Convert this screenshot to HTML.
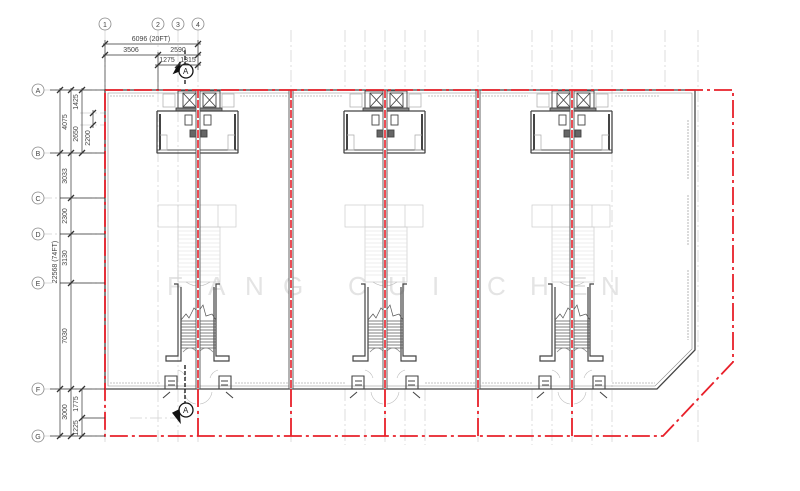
<!DOCTYPE html>
<html><head><meta charset="utf-8"><style>
html,body{margin:0;padding:0;background:#fff;}
svg{display:block;font-family:"Liberation Sans",sans-serif;}
</style></head><body>
<svg width="800" height="491" viewBox="0 0 800 491" xmlns="http://www.w3.org/2000/svg">
<defs>
<g id="mod" fill="none">
  <g stroke="#ccc" stroke-width="0.7">
    <rect x="158" y="205" width="78" height="22"/>
    <line x1="178" y1="205" x2="178" y2="227"/><line x1="218" y1="205" x2="218" y2="227"/>
    <rect x="178" y="227" width="42" height="55"/>
  </g>
  <g stroke="#ddd" stroke-width="0.6">
    <path d="M178 231H220M178 235H220M178 239H220M178 243H220M178 247H220M178 251H220M178 255H220M178 259H220M178 263H220M178 267H220M178 271H220M178 275H220"/>
  </g>
  <g stroke="#444" stroke-width="0.9">
    <rect x="183" y="93" width="13" height="14"/><path d="M183 93L196 107M196 93L183 107"/>
    <rect x="203" y="93" width="13" height="14"/><path d="M203 93L216 107M216 93L203 107"/>
    <rect x="178" y="91" width="42" height="20"/>
    <rect x="176" y="108" width="46" height="3" fill="#888"/>
    <path d="M157 111H238M157 111V153M238 111V153M157 153H238" stroke-width="1.3"/>
    <path d="M160 114V150M235 114V150" stroke-width="2"/>
    <rect x="157" y="150" width="81" height="3"/>
    <rect x="185" y="115" width="7" height="10"/><rect x="204" y="115" width="7" height="10"/>
    <rect x="190" y="130" width="6" height="7" fill="#666"/><rect x="201" y="130" width="6" height="7" fill="#666"/>
  </g>
  <g stroke="#aaa" stroke-width="0.7">
    <rect x="163" y="94" width="12" height="13"/><rect x="222" y="94" width="12" height="13"/>
    <path d="M160 135H167V150H160M235 135H228V150H235"/>
  </g>
  <g stroke="#444" stroke-width="1.2">
    <path d="M174 284H178V356H166V361H181V287M220 284H216V356H229V361H214V287"/>
  </g>
  <g stroke="#555" stroke-width="0.7">
    <path d="M181 321H216M181 324H216M181 327H216M181 330H216M181 333H216M181 336H216M181 339H216M181 342H216M181 345H216M181 348H216"/>
    <path d="M181 320L186 314L189 318L194 308L198 312L203 305L206 316L212 314L216 320"/>
    <path d="M183 352Q190 344 197 352M199 352Q206 344 213 352" stroke="#888"/>
    <path d="M186 282Q198 290 210 282" stroke="#bbb"/>
  </g>
  <g stroke="#444" stroke-width="1.1">
    <path d="M165 389V376H177V389M168 381H175M168 385H175"/>
    <path d="M219 389V376H231V389M221 381H228M221 385H228"/>
    <path d="M170 392L163 398M226 392L233 398"/>
  </g>
  <g stroke="#bbb" stroke-width="0.6">
    <path d="M178 370A12 12 0 0 1 186 378M218 370A12 12 0 0 0 210 378"/>
    <path d="M184 392A14 14 0 0 0 196 404M212 392A14 14 0 0 1 200 404"/>
  </g>
  <rect x="196" y="90" width="4" height="299" fill="#fff" stroke="#555" stroke-width="0.9"/>
  <line x1="198" y1="90" x2="198" y2="389" stroke="#e8202a" stroke-width="1.6" stroke-dasharray="8 2"/>
  <line x1="198" y1="389" x2="198" y2="436" stroke="#e8202a" stroke-width="1.8" stroke-dasharray="18 4 3 4"/>
</g>
</defs>

<g stroke="#d0d0d0" stroke-width="0.7" stroke-dasharray="12 3 2 3" fill="none">
  <path d="M105 30V445M158 30V445M178 30V445M198 30V445"/>
  <path d="M291 30V445M345 30V90M345 389V445M365 30V90M365 389V445M385 30V445M405 30V90M405 389V445M425 30V90M425 389V445"/>
  <path d="M478 30V445M532 30V90M532 389V445M552 30V90M552 389V445M572 30V445M592 30V90M592 389V445M612 30V445M665 30V90M698 30V445"/>
  <path d="M40 90H105M40 153H105M40 198H105M40 234H105M40 283H105M40 389H105M40 436H105"/>
  <path d="M80 113H105M80 125H105M130 418H180"/>
</g>

<g fill="#e4e4e4" font-size="26" font-family="Liberation Sans,sans-serif">
  <text x="167" y="295">F</text><text x="208" y="295">A</text><text x="245" y="295">N</text><text x="283" y="295">G</text>
  <text x="348" y="295">C</text><text x="388" y="295">U</text><text x="432" y="295">I</text>
  <text x="487" y="295">C</text><text x="530" y="295">H</text><text x="570" y="295">E</text><text x="601" y="295">N</text>
</g>

<g fill="none" stroke="#444" stroke-width="1.3">
  <path d="M105 90H695V350L657 389H105Z"/>
  <path d="M108 93H692V349L655 386H108Z" stroke="#888" stroke-width="0.6"/>
</g>
<g stroke="#888" stroke-width="0.6" fill="none" stroke-dasharray="2 1">
  <path d="M110 96H155M240 96H288M295 96H342M428 96H475M482 96H528M615 96H660"/>
  <path d="M110 383H160M235 383H288M295 383H345M425 383H475M482 383H532M612 383H655"/>
  <path d="M688 120V180M688 195V245M688 270V340"/>
</g>
<g>
  <rect x="289" y="90" width="4" height="299" fill="#fff" stroke="#555" stroke-width="0.9"/>
  <rect x="476" y="90" width="4" height="299" fill="#fff" stroke="#555" stroke-width="0.9"/>
  <path d="M291 90V389M478 90V389" stroke="#e8202a" stroke-width="1.6" stroke-dasharray="8 2"/>
</g>

<use href="#mod"/>
<use href="#mod" transform="translate(187 0)"/>
<use href="#mod" transform="translate(374 0)"/>

<g fill="none" stroke="#e8202a" stroke-width="1.8" stroke-dasharray="18 4 3 4">
  <path d="M105 90H733V362L663 436H105Z"/>
  <path d="M291 389V436M478 389V436"/>
</g>

<g stroke="#111" stroke-width="1.3" fill="#fff">
  <path d="M185 50V85" stroke-dasharray="4 2"/>
  <circle cx="186" cy="71" r="7"/>
  <path d="M179 71L174 73L180 62Z" fill="#111"/>
  <path d="M185 365V410" stroke-dasharray="4 2"/>
  <circle cx="186" cy="410" r="7"/>
  <path d="M179 410L173 413L180 422Z" fill="#111"/>
</g>
<g font-size="8" fill="#222"><text x="183" y="74">A</text><text x="183" y="413">A</text></g>

<g fill="#fff" stroke="#888" stroke-width="0.8">
  <circle cx="105" cy="24" r="6"/><circle cx="158" cy="24" r="6"/><circle cx="178" cy="24" r="6"/><circle cx="198" cy="24" r="6"/>
  <circle cx="38" cy="90" r="6"/><circle cx="38" cy="153" r="6"/><circle cx="38" cy="198" r="6"/><circle cx="38" cy="234" r="6"/>
  <circle cx="38" cy="283" r="6"/><circle cx="38" cy="389" r="6"/><circle cx="38" cy="436" r="6"/>
</g>
<g font-size="7" fill="#444" text-anchor="middle">
  <text x="105" y="27">1</text><text x="158" y="27">2</text><text x="178" y="27">3</text><text x="198" y="27">4</text>
  <text x="38" y="93">A</text><text x="38" y="156">B</text><text x="38" y="201">C</text><text x="38" y="237">D</text>
  <text x="38" y="286">E</text><text x="38" y="392">F</text><text x="38" y="439">G</text>
</g>

<g stroke="#333" stroke-width="0.7" fill="none">
  <path d="M103 44H201M103 55H201M155 65H201"/>
  <path d="M105 40V90M158 52V90M198 40V70"/>
  <path d="M102 47L108 41M102 58L108 52M155 58L161 52M195 47L201 41M195 58L201 52M155 68L161 62M175 68L181 62M195 68L201 62" stroke-width="1.3"/>
</g>
<g font-size="7" fill="#444" text-anchor="middle">
  <text x="151" y="41">6096 (20FT)</text><text x="131" y="52">3506</text><text x="178" y="52">2590</text>
  <text x="167" y="62">1275</text><text x="188" y="62">1315</text>
</g>

<g stroke="#333" stroke-width="0.7" fill="none">
  <path d="M60 88V438M71 88V436M82 88V153M82 389V436M93 110V128"/>
  <path d="M50 90H105M50 153H105M60 198H105M60 234H105M60 283H105M50 389H105M50 436H105M82 418H105"/>
  <path d="M57 93L63 87M68 93L74 87M79 93L85 87M57 156L63 150M68 156L74 150M79 156L85 150M68 201L74 195M68 237L74 231M68 286L74 280M57 392L63 386M68 392L74 386M79 392L85 386M79 421L85 415M57 439L63 433M68 439L74 433M79 439L85 433M90 116L96 110M90 128L96 122" stroke-width="1.3"/>
</g>
<g font-size="7" fill="#444" text-anchor="middle">
  <text transform="translate(67 122) rotate(-90)">4075</text>
  <text transform="translate(78 102) rotate(-90)">1425</text>
  <text transform="translate(78 134) rotate(-90)">2650</text>
  <text transform="translate(90 138) rotate(-90)">2200</text>
  <text transform="translate(67 176) rotate(-90)">3033</text>
  <text transform="translate(67 216) rotate(-90)">2300</text>
  <text transform="translate(67 258) rotate(-90)">3130</text>
  <text transform="translate(57 262) rotate(-90)">22568 (74FT)</text>
  <text transform="translate(67 336) rotate(-90)">7030</text>
  <text transform="translate(67 412) rotate(-90)">3000</text>
  <text transform="translate(78 404) rotate(-90)">1775</text>
  <text transform="translate(78 428) rotate(-90)">1225</text>
</g>
</svg>
</body></html>
